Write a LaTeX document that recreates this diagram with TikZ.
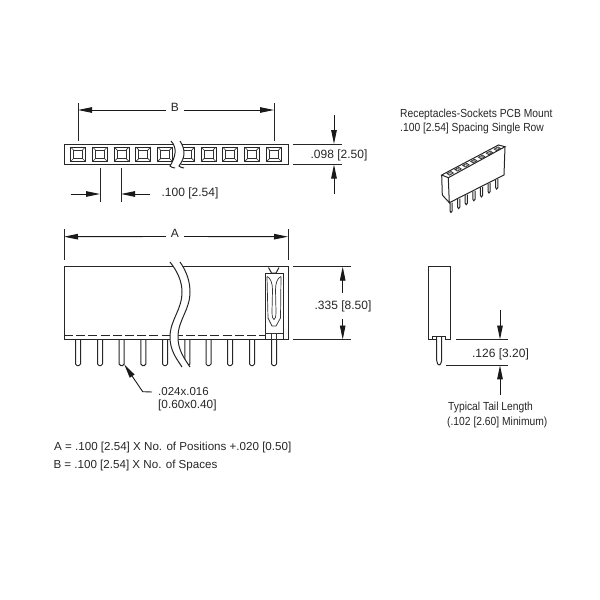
\documentclass[tikz,border=0pt]{standalone}
\usepackage{fontspec}
\setmainfont{Liberation Sans}
\newfontfamily\narrowfont[FakeStretch=0.88]{Liberation Sans}
\usetikzlibrary{arrows.meta}
\tikzset{
  dim/.style={-{Triangle[length=14pt,width=5.5pt]},line width=0.9pt,black!90},
  ln/.style={line width=1pt,black!85},
  thinln/.style={line width=0.7pt,black!80},
  lbl/.style={font=\fontsize{12}{14}\selectfont,text=black!85,inner sep=0pt},
  lblnote/.style={font=\fontsize{11.6}{14}\selectfont,text=black!85,inner sep=0pt,anchor=west},
  lblsmall/.style={font=\narrowfont\fontsize{11.7}{13}\selectfont,text=black!85,inner sep=0pt,anchor=west}
}
\begin{document}
\begin{tikzpicture}[x=1pt,y=-1pt]
            \useasboundingbox (0,0) rectangle (600,600);

            % top view
            \path (64,144) coordinate (TL) (288,144) coordinate (TR) (64,164.5) coordinate (BL) (288,164.5) coordinate (BR);
            \draw[ln] (TL) -- (TR) -- (BR) -- (BL) -- cycle;
            \foreach \px in {78,100,121.7,143.3,165,187.3,208.5,230,252,274} {
                \draw[ln] (\px-7.5,147) rectangle (\px+7.5,161.5);
                \draw[thinln] (\px-4.5,150) rectangle (\px+4.5,158.5);
                \draw[thinln] (\px-7.5,147) -- (\px-4.5,150) (\px+7.5,147) -- (\px+4.5,150)
                    (\px-7.5,161.5) -- (\px-4.5,158.5) (\px+7.5,161.5) -- (\px+4.5,158.5);
            }
            \fill[white] (171,141) .. controls (178,148) and (175,158) .. (170,166) -- (179,169) .. controls (185,158) and (186,150) .. (180,141) -- cycle;
            \draw[ln] (171,141) .. controls (178,148) and (175,158) .. (170,166) .. controls (171,167) and (173,168) .. (175,168);
            \draw[ln] (180,141) .. controls (186,150) and (185,158) .. (179,166) .. controls (180,167) and (182,168) .. (184,168);

            % B
            \node[lbl] (B) at (175,107.5) {B};
            \path (78,110) coordinate (Ba) (274,110) coordinate (Bb);
            \draw[ln] (78,103) -- (78,141);
            \draw[ln] (274,103) -- (274,141);
            \draw[dim] (B.west) ++(-5,2.5) -- (Ba);
            \draw[dim] (B.east) ++(5,2.5) -- (Bb);

            % pitch
            \draw[ln] (100,168) -- (100,201.5);
            \draw[ln] (121,168) -- (121,201.5);
            \draw[dim] (70.5,194) -- (100,194);
            \draw[dim] (150,194) -- (121,194);
            \node[lbl] (pitch) at (190,193.5) {.100 [2.54]};

            % height of strip
            \draw[ln] (293,144) -- (342,144);
            \draw[ln] (293,164.5) -- (342,164.5);
            \draw[dim] (334,115) -- (334,144);
            \draw[dim] (334,194) -- (334,164.5);
            \node[lbl] (height) at (339,155) {.098 [2.50]};

            % title and small view
            \node[lblsmall] (title) at (400,114) {Receptacles-Sockets PCB Mount};
            \node[lblsmall] (subtitle) at (400,128.5) {.100 [2.54] Spacing Single Row};

            \path (441.7,175) coordinate (Ia) (498.5,145) coordinate (Ib) (505,146.7) coordinate (Ic) (448.3,177.7) coordinate (Id)
                (449.3,202.7) coordinate (Ie) (504,175) coordinate (If) (442.3,195) coordinate (Ig);
            \foreach \i in {0,...,6} {
                \draw[ln] (450+\i*7.6,203-\i*3.9) -- ++(0,8) -- ++(1,1.5) -- ++(1.2,-1.5) -- ++(0,-8.5);
            }
            \filldraw[ln,fill=white] (Ia) -- (Ib) -- (Ic) -- (Id) -- cycle;
            \draw[ln] (Ia) -- (Ig) -- (Ie) -- (Id);
            \draw[ln] (Ie) -- (If) -- (Ic);
            \foreach \i in {0,...,6} {
                \draw[thinln] (447+\i*7.85,173.6-\i*4.1) -- ++(4,-2.1) -- ++(2.4,1.6) -- ++(-4,2.1) -- cycle;
                \draw[line width=0.3pt,black!70] (448.2+\i*7.85,173.7-\i*4.1) -- ++(2.6,-1.3) -- ++(1.1,0.8) -- ++(-2.6,1.3) -- cycle;
            }

            % side view
            \path (64,266.7) coordinate (SL) (288,266.7) coordinate (SR) (64,339.5) coordinate (SBL) (288,339.5) coordinate (SBR);
            \foreach \px in {78,100,121.7,143.3,165,187.3,208.5,230,252,274} {
                \draw[ln,rounded corners=1.5pt] (\px-2.5,339.5) -- (\px-2.5,365.5) -- (\px+2.5,365.5) -- (\px+2.5,339.5);
            }
            \draw[ln] (SL) -- (SR) -- (SBR) -- (SBL) -- cycle;
            \draw[ln,dash pattern=on 9pt off 3.2pt] (64,335.3) -- (265,335.3);
            \fill[white] (170,262) .. controls (178,272) and (182,282) .. (182,292) .. controls (182,310) and (170,320) .. (170,337) .. controls (170,350) and (176,358) .. (182,367)
                -- (190,367) .. controls (184,358) and (178,350) .. (178,337) .. controls (178,320) and (190,310) .. (190,292) .. controls (190,282) and (187,272) .. (180,262) -- cycle;
            \draw[ln] (170,262) .. controls (178,272) and (182,282) .. (182,292) .. controls (182,310) and (170,320) .. (170,337) .. controls (170,350) and (176,358) .. (182,367);
            \draw[ln] (180,262) .. controls (187,272) and (190,282) .. (190,292) .. controls (190,310) and (178,320) .. (178,337) .. controls (178,350) and (184,358) .. (190,367);

            % contact in the side view
            \draw[ln] (268.5,267.5) -- (271.5,273) -- (276,273) -- (279,267.5);
            \draw[ln] (265,339.5) -- (265,273) -- (283,273) -- (283,339.5);
            \draw[thinln] (265,333.5) -- (283,333.5);
            \draw[thinln] (267,276.5) .. controls (271,278) and (272.5,284) .. (272.5,290) -- (272,312) .. controls (272,322) and (276,322) .. (276,312) -- (275.5,290) .. controls (275.5,284) and (277,278) .. (281,276.5);
            \draw[thinln] (267,276.5) -- (268,318);
            \draw[thinln] (281,276.5) -- (280.5,318);
            \draw[thinln] (268,318) -- (272,326) -- (276,326) -- (280.5,318);
            \draw[thinln] (271.5,333.5) -- (271.5,339.5) (276.5,333.5) -- (276.5,339.5);

            % A
            \node[lbl] (A) at (175,233.5) {A};
            \path (64,236.7) coordinate (Aa) (288,236.7) coordinate (Ab);
            \draw[ln] (64,229) -- (64,260);
            \draw[ln] (288,229) -- (288,260);
            \draw[dim] (A.west) ++(-5,3) -- (Aa);
            \draw[dim] (A.east) ++(5,3) -- (Ab);

            % height of body
            \draw[ln] (293,266.7) -- (351,266.7);
            \draw[ln] (293,339.5) -- (351,339.5);
            \draw[dim] (342.7,292.7) -- (342.7,266.7);
            \draw[dim] (342.7,319) -- (342.7,339.5);
            \node[lbl] (bodyh) at (343,306) {.335 [8.50]};

            % tail
            \node[lbl,anchor=west,font=\fontsize{11.5}{14}\selectfont] (tailA) at (158,392) {.024x.016};
            \node[lbl,anchor=west,font=\fontsize{11.8}{14}\selectfont] (tailB) at (158,405.7) {[0.60x0.40]};
            \path (124.3,364.5) coordinate (tip) (142.7,391.7) coordinate (knee);
            \draw[dim] (tailA.west) ++(-6,0) -- (knee) -- (tip);

            % end view
            \draw[ln] (436.7,339.5) -- (432.7,339.5) -- (432.7,336) -- (445.5,336) -- (445.5,339.5) -- (450,339.5) -- (450,266) -- (428.3,266) -- (428.3,339.5) -- (432.7,339.5);
            \draw[ln,rounded corners=1.5pt] (436.7,336) -- (436.7,362) -- (439,366) -- (441.7,362) -- (441.7,336);

            % tail length
            \draw[ln] (456,339.5) -- (508,339.5);
            \draw[ln] (446,365.3) -- (508,365.3);
            \draw[dim] (500,310) -- (500,339.5);
            \draw[dim] (500,395) -- (500,365.3);
            \node[lbl] (taillen) at (500.5,354) {.126 [3.20]};
            \node[lblsmall] (typA) at (448,407.7) {Typical Tail Length};
            \node[lblsmall] (typB) at (447,422.7) {(.102 [2.60] Minimum)};

            % notes
            \node[lblnote] (noteA) at (54,447.7) {A = .100 [2.54] X No. of Positions +.020 [0.50]};
            \node[lblnote] (noteB) at (53.3,465.7) {B = .100 [2.54] X No. of Spaces};
        \end{tikzpicture}
\end{document}
